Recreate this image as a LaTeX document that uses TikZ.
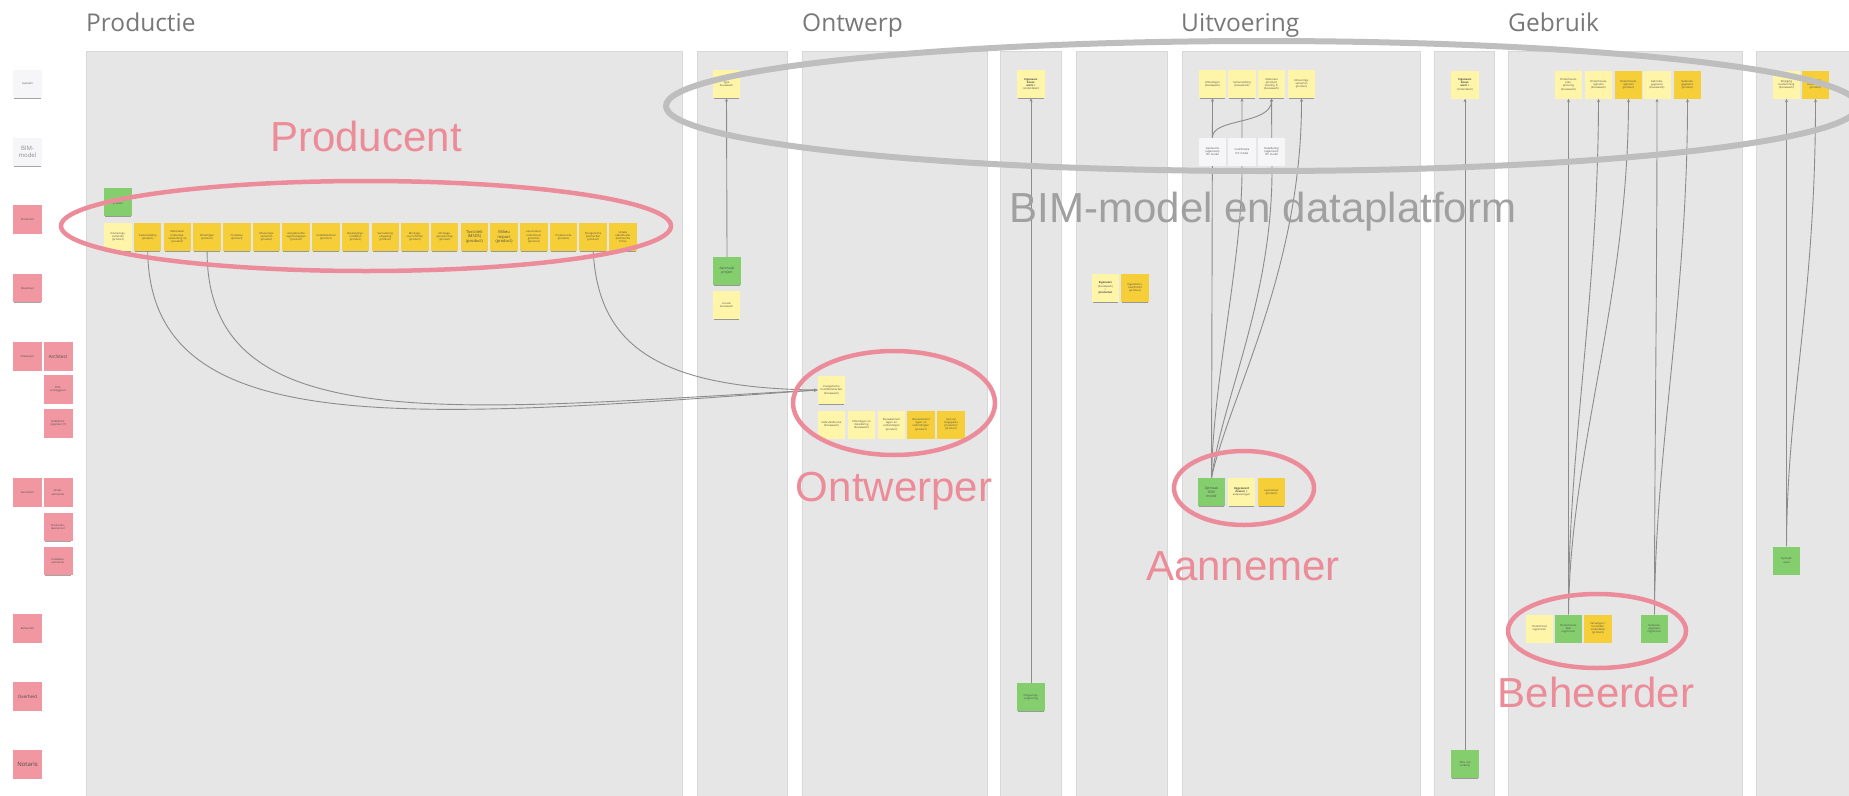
\documentclass[tikz,border=0pt]{standalone}
\usepackage{fontspec}
\setmainfont{Open Sans}
\newfontfamily\bigfont{Liberation Sans}
\usetikzlibrary{arrows.meta,shadows}
\definecolor{panelfill}{RGB}{230,230,230}
\definecolor{panelline}{RGB}{216,216,216}
\definecolor{lightyel}{RGB}{255,245,168}
\definecolor{brightyel}{RGB}{246,207,56}
\definecolor{greennote}{RGB}{133,206,110}
\definecolor{whitenote}{RGB}{246,246,248}
\definecolor{pinknote}{RGB}{241,151,162}
\definecolor{pinkring}{RGB}{236,140,155}
\definecolor{pinktext}{RGB}{236,140,152}
\definecolor{greyring}{RGB}{190,190,190}
\definecolor{bimtext}{RGB}{160,160,160}
\definecolor{hdrgray}{RGB}{120,120,120}
\definecolor{conncol}{RGB}{140,140,140}
\tikzset{
  note/.style={rectangle, minimum width=27.5pt, minimum height=28pt, inner sep=0.4pt,
    text width=25pt, align=center, font=\fontsize{2.7}{3.2}\selectfont, text=black!70,
    drop shadow={shadow xshift=0pt, shadow yshift=-1.6pt, opacity=.5, fill=black!70, shadow scale=0.93}},
  ly/.style={note, fill=lightyel},
  by/.style={note, fill=brightyel},
  gr/.style={note, fill=greennote},
  wt/.style={note, fill=whitenote},
  pk/.style={note, fill=pinknote, minimum width=29pt, minimum height=28.5pt, text width=27pt},
  conn/.style={draw=conncol, line width=0.9pt, -{Stealth[length=3.5pt,width=3pt]}},
  panel/.style={fill=panelfill, draw=panelline, line width=1pt},
  hdr/.style={font=\fontsize{24.5}{26}\selectfont, text=hdrgray, anchor=base west, inner sep=0},
  pinklbl/.style={font=\bigfont\fontsize{42}{44}\selectfont, text=pinktext, anchor=base, inner sep=0},
  ring/.style={draw=pinkring, line width=4.5pt},
}
\begin{document}
\begin{tikzpicture}[x=1pt,y=-1pt]
\useasboundingbox (0,0) rectangle (1849,795);
\fill[white] (0,0) rectangle (1849,795);
% panels
\foreach \a/\b in {86/682,697/787,802/987,1000/1061,1076/1167,1182/1420,1434/1494,1508/1742,1756/1870}
  \draw[panel] (\a,51) rectangle (\b,800);
% headers
\node[hdr] (hprod) at (86,31) {Productie};
\node[hdr] (hontw) at (802,31) {Ontwerp};
\node[hdr] (huitv) at (1181,31) {Uitvoering};
\node[hdr] (hgebr) at (1508,31) {Gebruik};
% left labels
\node[wt, minimum width=29pt, text width=27pt] (lsys) at (27.5,84) {Systeem};
\node[wt, minimum width=29pt, text width=27pt, font=\fontsize{6}{7}\selectfont, text=black!45] (lbim) at (27.5,152) {BIM-\\model};
\node[pk] (lprod) at (27.5,219.5) {Producent};
\node[pk] (lbouw) at (27.5,288) {Bouwheer};
\node[pk] (lontw) at (27.5,356.5) {Ontwerper};
\node[pk, font=\fontsize{4.5}{5}\selectfont] (larch) at (58,356.5) {Architect};
\node[pk] (lepb) at (58,389.5) {EPB-\\verslaggever};
\node[pk] (lstab) at (58,423.5) {Stabiliteits-\\ingenieur (?)};
\node[pk] (laann) at (27.5,492.5) {Aannemer};
\node[pk] (londer) at (58,492.5) {Onder-\\aannemer};
\node[pk] (lprodl) at (58,527) {Producten-\\leverancier};
\node[pk] (linst) at (58,561) {Installatie-\\aannemer};
\node[pk] (lbeh) at (27.5,628.5) {Beheerder};
\node[pk, font=\fontsize{4.5}{5}\selectfont] (lover) at (27.5,696.5) {Overheid};
\node[pk, font=\fontsize{6}{7}\selectfont] (lnot) at (27.5,764.5) {Notaris};
% Producent row
\node[gr] (pauto) at (118,202) {Automatisch\\product};
\node[ly] (p1) at (118,237) {Uitvoerings-\\varianten\\(product)};
\node[by] (p2) at (147.7,237) {Samenstelling\\(product)};
\node[by] (p3) at (177.4,237) {Materialen\\(materiaal-\\verwerking in)\\(product)};
\node[by] (p4) at (207.1,237) {Afmetingen\\(product)};
\node[by] (p5) at (236.8,237) {Prestaties\\(product)};
\node[by] (p6) at (266.5,237) {Uitvoerings-\\varianten\\(product)};
\node[by] (p7) at (296.2,237) {Aangebrachte\\eigenschappen\\(product)};
\node[by] (p8) at (325.9,237) {Installatiedetail\\(product)};
\node[by] (p9) at (355.6,237) {Bevestigings-\\middelen\\(product)};
\node[by] (p10) at (385.3,237) {Veroudering\\omgeving\\(product)};
\node[by] (p11) at (415,237) {Montage-\\voorschriften\\(product)};
\node[by] (p12) at (444.7,237) {Montage-\\gereedschap\\(product)};
\node[by, font=\fontsize{4}{4.6}\selectfont] (p13) at (474.4,237) {Toxiciteit\\(MSDS)\\(product)};
\node[by, font=\fontsize{4}{4.6}\selectfont] (p14) at (504.1,237) {Milieu\\impact\\(product)};
\node[by] (p15) at (533.8,237) {Levensduur,\\onderhoud,\\garanties\\(product)};
\node[by] (p16) at (563.5,237) {Productcode\\(product)};
\node[by] (p17) at (593.2,237) {Energetische\\kenmerken\\(product)};
\node[by] (p18) at (622.9,237) {Unieke\\identificatie\\(technische\\fiche)};
% Ontwerp small panel
\node[ly] (otype) at (726.5,84) {Type\\bouwwerk};
\node[gr, font=\fontsize{3.4}{4}\selectfont] (oaanm) at (727,271) {Aanmaak\\project};
\node[ly] (oloc) at (726.5,305) {Locatie\\bouwwerk};
% Ontwerper
\node[ly] (wtop) at (831.5,390) {Energetische\\hoofdkenmerken\\(bouwwerk)};
\node[ly] (w1) at (831.5,424.5) {Gebruiksfunctie\\(bouwwerk)};
\node[ly] (w2) at (861.5,424.5) {Afmetingen en\\detaillering\\(bouwwerk)};
\node[ly] (w3) at (891.5,424.5) {Bouwelement\\lagen en\\verbindingen\\(product)};
\node[by] (w4) at (921,424.5) {Bouwelement\\lagen en\\verbindingen\\(product)};
\node[by] (w5) at (951,424.5) {Lijst van\\toegepaste\\producten\\(product)};
% panel 1000
\node[ly] (eig1) at (1031,84) {\textbf{Eigenaars}\\\textbf{bouw-}\\\textbf{werk +}\\(onderdelen)};
\node[gr] (omgv) at (1031,697) {Omgevings-\\vergunning};
% panel 1076
\node[ly] (eig2) at (1105.5,288) {\textbf{Eigenaars}\\(bouwwerk)\\+\\\textbf{producten}};
\node[by] (eigov) at (1135,288) {Eigendoms-\\overdracht\\(product)};
% Uitvoering
\node[ly] (u1) at (1212.5,84) {Afmetingen\\(bouwwerk)};
\node[ly] (u2) at (1242,84) {Samenstelling\\(bouwwerk)};
\node[ly] (u3) at (1271.5,84) {Materiaal\\(product)\\levering in\\(bouwwerk)};
\node[ly] (u4) at (1301.5,84) {Uitvoerings-\\varianten\\(product)};
\node[gr, font=\fontsize{3.4}{4}\selectfont] (a1) at (1211.5,492) {Opmaak\\BIM\\model};
\node[ly] (a2) at (1241.5,492) {\textbf{Opgeleverd}\\\textbf{dossier +}\\aanpassingen};
\node[by] (a3) at (1271.5,492) {Leverancier\\(product)};
% connectors
\draw[conn] (oaanm.north) -- (otype.south);
\draw[conn] (omgv.north) -- (eig1.south);
\draw[conn] (p2.south) .. controls (150,440) and (400,420) .. (wtop.west);
\draw[conn] (p4.south) .. controls (207,440) and (450,410) .. (wtop.west);
\draw[conn] (p17.south) .. controls (598,340) and (650,388) .. (wtop.west);
\draw[conn] (a1.north) -- (u1.south);
\draw[conn] (a1.north) .. controls (1213,380) and (1242,260) .. (1242,170) -- (u2.south);
\draw[conn] (a1.north) .. controls (1222,400) and (1272,300) .. (1272,170) -- (u3.south);
\draw[conn] (a1.north) .. controls (1228,400) and (1302,270) .. (u4.south);
% white BIM notes (over the lines)
\node[wt] (b1) at (1212.5,151.5) {Geometrie\\(algemeen)\\IFC model};
\node[wt] (b2) at (1242,151.5) {Co\"ordinatie\\IFC model};
\node[wt] (b3) at (1271.5,151.5) {Detaillering\\(algemeen)\\IFC model};
\draw[conn] (b1.north) .. controls (1212,118) and (1272,125) .. (u3.south);
% panel 1434
\node[ly] (eig3) at (1465,84.5) {\textbf{Eigenaars}\\\textbf{bouw-}\\\textbf{werk +}\\(onderdelen)};
\node[gr] (akte) at (1465,764) {Akte van\\verkoop};
\draw[conn] (akte.north) -- (eig3.south);
% Gebruik
\node[ly] (g1) at (1568.5,84.5) {Onderhouds-\\plan,\\planning\\(bouwwerk)};
\node[ly] (g2) at (1598.5,84.5) {Onderhouds-\\signalen\\(bouwwerk)};
\node[by] (g3) at (1628.5,84.5) {Onderhouds-\\signalen\\(product)};
\node[ly] (g4) at (1657,84.5) {Gebruiks-\\gegevens\\(bouwwerk)};
\node[by] (g5) at (1687.5,84.5) {Gebruiks-\\gegevens\\(product)};
\node[ly] (h1) at (1539.5,628.5) {Onderhoud\\registreren};
\node[gr] (h2) at (1568.5,628.5) {Onderhouds-\\plan\\registreren};
\node[by] (h3) at (1598,628.5) {Vervangen /\\herstellen\\onderdelen\\(product)};
\node[gr] (h4) at (1654.5,628.5) {Gebruiks-\\gegevens\\registreren};
\draw[conn] (h2.north) -- (g1.south);
\draw[conn] (h2.north) .. controls (1568,450) and (1598,300) .. (g2.south);
\draw[conn] (h2.north) .. controls (1570,450) and (1628,300) .. (g3.south);
\draw[conn] (h4.north) .. controls (1654.5,450) and (1657,300) .. (g4.south);
\draw[conn] (h4.north) .. controls (1655,450) and (1687.5,300) .. (g5.south);
% last panel
\node[ly] (l1) at (1786.5,84.5) {Wijziging\\bestemming\\(bouwwerk)};
\node[by] (l2) at (1815.5,84.5) {Wijziging\\bestemming\\(product)};
\node[gr] (asset) at (1786.5,560.5) {Opmaak\\asset};
\draw[conn] (asset.north) -- (l1.south);
\draw[conn] (asset.north) .. controls (1787,400) and (1815.5,300) .. (l2.south);
% rings
\draw[ring] (366,226) ellipse [x radius=305, y radius=45];
\draw[ring] (894,403) ellipse [x radius=101, y radius=52];
\draw[ring] (1244,488) ellipse [x radius=70, y radius=37];
\draw[ring] (1597,631) ellipse [x radius=89, y radius=37];
\draw[draw=greyring, line width=6pt] (1262,106) ellipse [x radius=596, y radius=65];
% big labels
\node[pinklbl] (tprod) at (366,151) {Producent};
\node[pinklbl] (tontw) at (894,501) {Ontwerper};
\node[pinklbl] (taann) at (1243,580) {Aannemer};
\node[pinklbl] (tbeh) at (1596,707) {Beheerder};
\node[pinklbl, text=bimtext] (tbim) at (1263,222) {BIM-model en dataplatform};
\end{tikzpicture}
\end{document}
